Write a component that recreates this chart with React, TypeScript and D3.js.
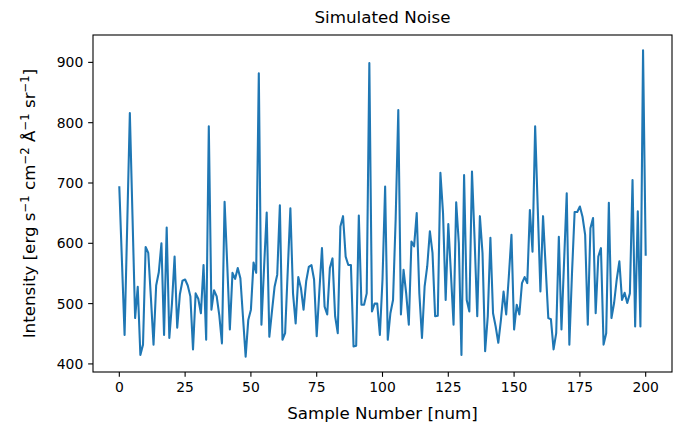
import React from 'react';
import * as d3 from 'd3';

const sampleValues: number[] = [
  693, 570, 448, 630, 816, 646, 476, 528, 415, 432,
  594, 584, 510, 432, 530, 552, 600, 448, 626, 443,
  500, 578, 460, 515, 538, 540, 530, 512, 424, 517,
  508, 484, 564, 440, 794, 490, 522, 512, 480, 434,
  669, 565, 457, 551, 541, 559, 542, 477, 412, 473,
  490, 568, 551, 882, 465, 560, 651, 445, 487, 528,
  548, 663, 440, 451, 555, 658, 517, 467, 544, 526,
  490, 537, 561, 564, 540, 446, 520, 592, 495, 482,
  559, 575, 479, 451, 628, 645, 578, 564, 564, 429,
  430, 646, 498, 498, 517, 899, 487, 500, 500, 448,
  540, 694, 440, 484, 506, 640, 821, 482, 556, 517,
  465, 603, 595, 650, 517, 443, 528, 562, 620, 584,
  479, 480, 717, 650, 506, 632, 550, 465, 668, 600,
  415, 713, 506, 487, 719, 606, 479, 645, 584, 421,
  479, 609, 484, 462, 435, 473, 520, 482, 545, 614,
  457, 498, 482, 534, 544, 534, 655, 586, 794, 657,
  520, 645, 560, 476, 474, 424, 451, 611, 457, 570,
  683, 432, 550, 652, 652, 661, 644, 614, 465, 625,
  642, 484, 578, 592, 432, 451, 667, 476, 501, 540,
  570, 506, 518, 501, 517, 705, 462, 653, 462, 920,
  581,
];

const xTicks = [0, 25, 50, 75, 100, 125, 150, 175, 200];
const yTicks = [400, 500, 600, 700, 800, 900];
const titleText = 'Simulated Noise';
const xLabelText = 'Sample Number [num]';
const yLabelParts: [string, boolean][] = [
  ['Intensity [erg s', false],
  ['\u22121', true],
  [' cm', false],
  ['\u22122', true],
  [' \u00C5', false],
  ['\u22121', true],
  [' sr', false],
  ['\u22121', true],
  [']', false],
];

const FONT = 'DejaVu Sans, sans-serif';

export default function App() {
  const W = 696;
  const H = 428;
  const left = 93;
  const right = 672;
  const top = 35;
  const bottom = 372;
  const n = sampleValues.length;
  const x = d3
    .scaleLinear()
    .domain([-0.05 * (n - 1), (n - 1) * 1.05])
    .range([left, right]);
  const [lo, hi] = d3.extent(sampleValues) as [number, number];
  const pad = (hi - lo) * 0.05;
  const y = d3.scaleLinear().domain([lo - pad, hi + pad]).range([bottom, top]);
  const line = d3
    .line<number>()
    .x((_, i) => x(i))
    .y((d) => y(d));
  const tickLen = 4.86;
  const tickPad = 4.86;
  const fs = 13.9;
  const labelFs = 16.7;
  const supFs = 11.7;
  const supShift = 6.5;

  return (
    <svg
      width={W}
      height={H}
      style={{ position: 'absolute', left: 0, top: 0, background: '#fff' }}
      fontFamily={FONT}
    >
      <rect x={0} y={0} width={W} height={H} fill="#fff" />
      <defs>
        <clipPath id="plotclip">
          <rect x={left} y={top} width={right - left} height={bottom - top} />
        </clipPath>
      </defs>
      <path
        d={line(sampleValues) || ''}
        fill="none"
        stroke="#1f77b4"
        strokeWidth={2.08}
        strokeLinejoin="round"
        strokeLinecap="square"
        clipPath="url(#plotclip)"
      />
      <rect
        x={left}
        y={top}
        width={right - left}
        height={bottom - top}
        fill="none"
        stroke="#000"
        strokeWidth={1.1}
      />
      {xTicks.map((t) => (
        <g key={'x' + t}>
          <line x1={x(t)} x2={x(t)} y1={bottom} y2={bottom + tickLen} stroke="#000" strokeWidth={1.1} />
          <text x={x(t)} y={bottom + tickLen + tickPad + 10.2} textAnchor="middle" fontSize={fs} fill="#000">
            {t}
          </text>
        </g>
      ))}
      {yTicks.map((t) => (
        <g key={'y' + t}>
          <line x1={left - tickLen} x2={left} y1={y(t)} y2={y(t)} stroke="#000" strokeWidth={1.1} />
          <text
            x={left - tickLen - tickPad}
            y={y(t) + 5}
            textAnchor="end"
            fontSize={fs}
            fill="#000"
          >
            {t}
          </text>
        </g>
      ))}
      <text x={(left + right) / 2} y={23} textAnchor="middle" fontSize={labelFs} fill="#000">
        {titleText}
      </text>
      <text x={(left + right) / 2} y={419} textAnchor="middle" fontSize={labelFs} fill="#000">
        {xLabelText}
      </text>
      <text
        transform={`translate(35, ${(top + bottom) / 2}) rotate(-90)`}
        textAnchor="middle"
        fontSize={labelFs}
        fill="#000"
      >
        {yLabelParts.map(([s, sup], i) => {
          const prevSup = i > 0 && yLabelParts[i - 1][1];
          const dy = sup ? -supShift : prevSup ? supShift : 0;
          return (
            <tspan key={i} dy={dy} fontSize={sup ? supFs : labelFs}>
              {s}
            </tspan>
          );
        })}
      </text>
    </svg>
  );
}
